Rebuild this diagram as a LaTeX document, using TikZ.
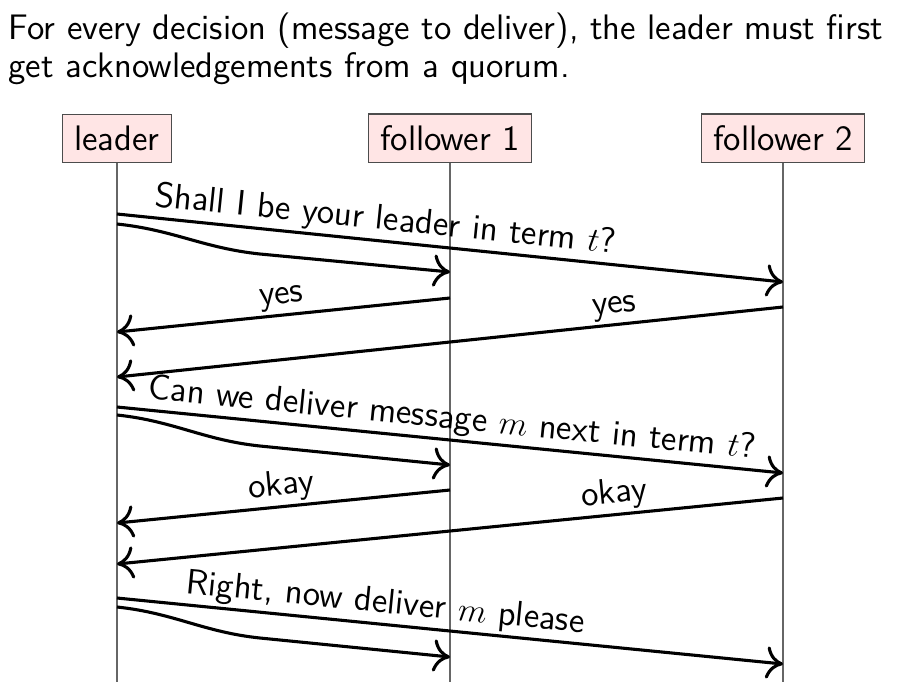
\documentclass[tikz,border=0pt]{standalone}
\usepackage{amsmath}
\usepackage{tikz}
\usetikzlibrary{arrows.meta}

\tikzset{
  proc/.style={draw=black!70, fill=red!10, inner sep=4.2pt, minimum height=0.59cm},
  life/.style={draw=black!60, line width=0.6pt},
  msg/.style={line width=1.1pt, -{Computer Modern Rightarrow[length=6pt,width=11.5pt]}},
  lbl/.style={sloped, above, inner sep=1pt}
}

\begin{document}
\begin{tikzpicture}[font=\fontsize{12.6}{13.3}\selectfont\sffamily]
\useasboundingbox (0,0) rectangle (11.2125,8.65);
\node[anchor=north west, inner sep=0pt, align=left, font=\fontsize{12.6}{13.8}\selectfont\sffamily] (intro) at (0.1,8.5)
  {For every decision (message to deliver), the leader must first\\get acknowledgements from a quorum.};
% processes
\node[proc] (leader) at (1.4625,6.92) {leader};
\node[proc] (fol1) at (5.625,6.92) {follower 1};
\node[proc] (fol2) at (9.7875,6.92) {follower 2};
\coordinate (leaderEnd) at (1.4625,0.125);
\coordinate (fol1End) at (5.625,0.125);
\coordinate (fol2End) at (9.7875,0.125);
\draw[life] (leader) -- (leaderEnd);
\draw[life] (fol1) -- (fol1End);
\draw[life] (fol2) -- (fol2End);
% begin election
\coordinate (ask1) at (1.4625,5.975);
\coordinate (ask1b) at (1.4625,5.85);
\coordinate (bend1) at (3.25,5.475);
\coordinate (got11) at (5.625,5.25);
\coordinate (got12) at (9.7875,5.125);
\draw[msg] (ask1) -- node[lbl,pos=0.4] {Shall I be your leader in term $t$?} (got12);
\draw[msg] (ask1b) to[out=-6,in=174] (bend1) -- (got11);
\coordinate (yes1) at (5.625,4.925);
\coordinate (yes1End) at (1.4625,4.5);
\coordinate (yes2) at (9.7875,4.8125);
\coordinate (yes2End) at (1.4625,3.9375);
\draw[msg] (yes1) -- node[lbl] {yes} (yes1End);
\draw[msg] (yes2) -- node[lbl,pos=0.25] {yes} (yes2End);
% begin proposal
\coordinate (ask2) at (1.4625,3.5625);
\coordinate (ask2b) at (1.4625,3.4625);
\coordinate (bend2) at (3.25,3.075);
\coordinate (got21) at (5.625,2.8375);
\coordinate (got22) at (9.7875,2.7375);
\draw[msg] (ask2) -- node[lbl] {Can we deliver message $m$ next in term $t$?} (got22);
\draw[msg] (ask2b) to[out=-6,in=174] (bend2) -- (got21);
\coordinate (okay1) at (5.625,2.525);
\coordinate (okay1End) at (1.4625,2.1125);
\coordinate (okay2) at (9.7875,2.425);
\coordinate (okay2End) at (1.4625,1.6);
\draw[msg] (okay1) -- node[lbl] {okay} (okay1End);
\draw[msg] (okay2) -- node[lbl,pos=0.25] {okay} (okay2End);
% commit
\coordinate (ask3) at (1.4625,1.175);
\coordinate (ask3b) at (1.4625,1.0625);
\coordinate (bend3) at (3.25,0.675);
\coordinate (got31) at (5.625,0.4375);
\coordinate (got32) at (9.7875,0.35);
\draw[msg] (ask3) -- node[lbl,pos=0.4] {Right, now deliver $m$ please} (got32);
\draw[msg] (ask3b) to[out=-6,in=174] (bend3) -- (got31);
\end{tikzpicture}
\end{document}
